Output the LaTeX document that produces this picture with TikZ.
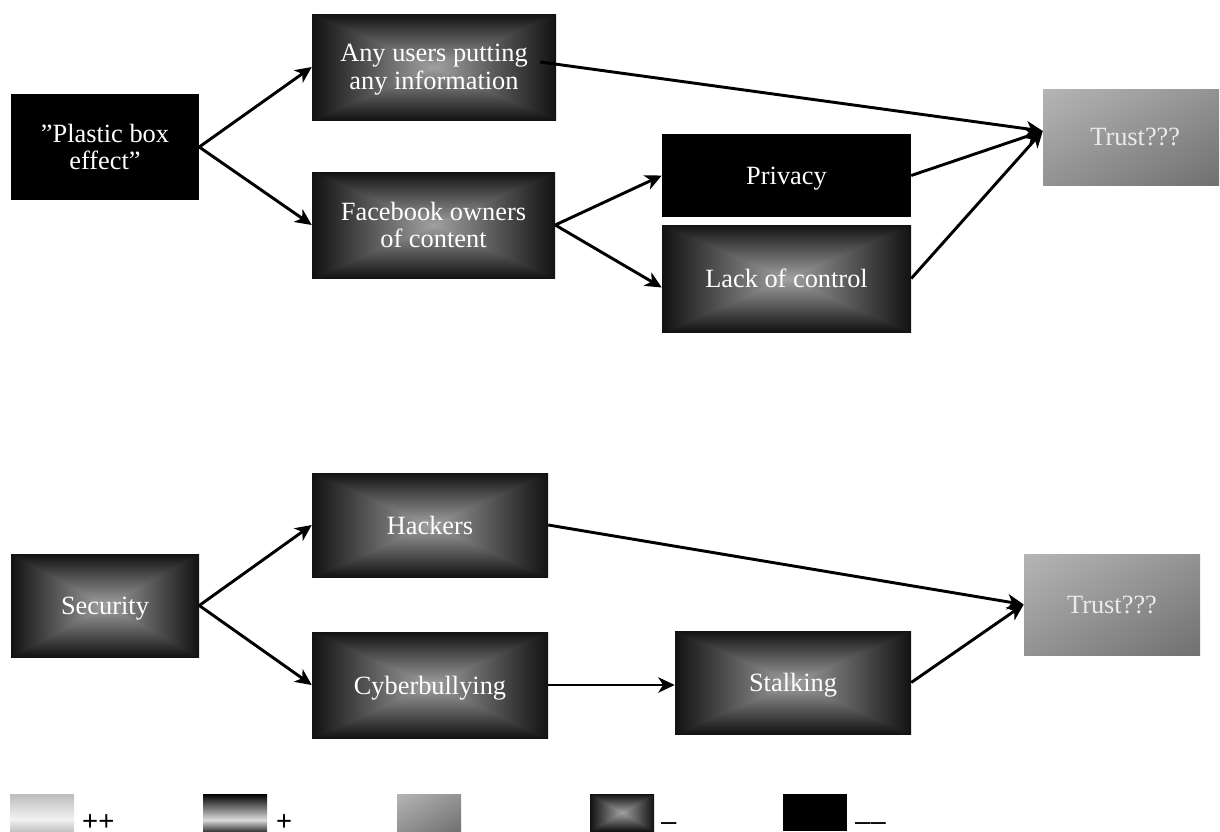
\documentclass[tikz,border=0pt]{standalone}
\usepackage{fontspec}
\setmainfont{Liberation Serif}
\newfontfamily\legfont{Liberation Sans}
\usetikzlibrary{arrows.meta}

% rectangular "from centre" gradient: light centre, dark rim
\pgfdeclarefunctionalshading{ctrrect}{\pgfpoint{0bp}{0bp}}{\pgfpoint{100bp}{100bp}}{}{
  50 sub abs exch 50 sub abs 2 copy lt {exch} if pop
  25 div dup 1 gt {pop 1} if 1 exch sub 0.56 mul 0.07 add dup dup
}
% diagonal grey gradient: light top-left, darker bottom-right
\pgfdeclarefunctionalshading{diaggray}{\pgfpoint{0bp}{0bp}}{\pgfpoint{100bp}{100bp}}{}{
  neg 75 add exch 25 sub add 100 div
  dup 0 lt {pop 0} if dup 1 gt {pop 1} if
  0.27 mul neg 0.71 add dup dup
}
\definecolor{ppA}{gray}{0.74}
\definecolor{ppB}{gray}{0.95}
\definecolor{ppC}{gray}{0.77}
\definecolor{pB}{gray}{0.86}
\definecolor{pC}{gray}{0.24}
\pgfdeclareverticalshading{legpp}{100bp}{color(0bp)=(ppC); color(25bp)=(ppC); color(41bp)=(ppB); color(75bp)=(ppA); color(100bp)=(ppA)}
\pgfdeclareverticalshading{legp}{100bp}{color(0bp)=(pC); color(25bp)=(pC); color(40bp)=(pB); color(75bp)=(black); color(100bp)=(black)}

\begin{document}
\begin{tikzpicture}[x=0.03cm,y=-0.03cm,
  sz/.style 2 args={minimum width=#1*0.03cm, minimum height=#2*0.03cm},
  card/.style={rectangle, inner sep=0pt, draw=none, align=center, text=white,
    text depth=0pt, font=\fontsize{22.5}{23.5}\selectfont},
  solid black/.style={card, fill=black},
  centre grad/.style={card, shading=ctrrect},
  trust grad/.style={card, shading=diaggray, text=white!92!black},
  arr/.style={-{Stealth[length=14pt,width=13pt,inset=4pt]}, line width=2.5pt},
  swatch/.style={rectangle, inner sep=0pt, draw=none, sz={64}{37}},
  leglab/.style={inner sep=0pt, font=\legfont\fontsize{23.5}{25}\selectfont}]
\useasboundingbox (0,0) rectangle (1220,831);

% ---- upper chain ----
\node[solid black, sz={188}{106}] (plastic) at (105,147) {''Plastic box\\effect''};
\node[centre grad, sz={244}{106}] (any) at (434,67) {Any users putting\\any information};
\node[centre grad, sz={243}{106}] (fb) at (433.5,225) {Facebook owners\\of content};
\node[solid black, sz={249}{83}] (privacy) at (786.5,175.5) {Privacy};
\node[centre grad, sz={249}{107}] (lack) at (786.5,278.5) {Lack of control};
\node[trust grad, sz={176}{96}] (trustA) at (1131,137) {\hspace*{18\pgflinewidth}Trust???};

\draw[arr] (plastic.east) -- (any.west);
\draw[arr] (plastic.east) -- (fb.west);
\draw[arr] (fb.east) -- (privacy.west);
\draw[arr] (fb.east) -- ([shift={(0,9)}]lack.west);
\draw[arr] ([shift={(-16,-5)}]any.east) -- ([shift={(0,-6)}]trustA.west);
\draw[arr] (privacy.east) -- ([shift={(0,-6)}]trustA.west);
\draw[arr] (lack.east) -- ([shift={(0,-6)}]trustA.west);

% ---- lower chain ----
\node[centre grad, sz={188}{103}] (security) at (105,605.5) {Security};
\node[centre grad, sz={236}{104}] (hackers) at (430,525) {Hackers};
\node[centre grad, sz={236}{106}] (cyber) at (430,685) {Cyberbullying};
\node[centre grad, sz={236}{103}] (stalking) at (793,682.5) {Stalking};
\node[trust grad, sz={176}{101}] (trustB) at (1112,604.5) {Trust???};

\draw[arr] (security.east) -- (hackers.west);
\draw[arr] (security.east) -- (cyber.west);
\draw[arr] (cyber.east) -- (stalking.west |- cyber.east);
\draw[arr] (hackers.east) -- (trustB.west);
\draw[arr] (stalking.east) -- (trustB.west);

% ---- legend ----
\node[swatch, shading=legpp] (sw1) at (42,812.5) {};
\node[swatch, shading=legp] (sw2) at (235,812.5) {};
\node[swatch, shading=diaggray] (sw3) at (429,812.5) {};
\node[swatch, shading=ctrrect] (sw4) at (622,812.5) {};
\node[swatch, fill=black] (sw5) at (815,812.5) {};
\node[leglab, anchor=base west] (l1) at (82,830) {++};
\node[leglab, anchor=base west] (l2) at (276,830) {+};
\node[leglab, anchor=base west] (l4) at (661,830) {–};
\node[leglab, anchor=base west] (l5) at (855,830) {––};
\end{tikzpicture}
\end{document}
